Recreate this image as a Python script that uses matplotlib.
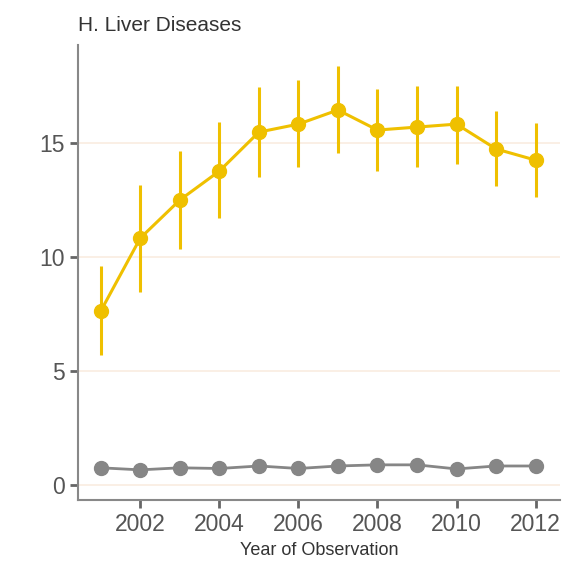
import matplotlib
matplotlib.use("Agg")
import matplotlib.pyplot as plt

years = [2001, 2002, 2003, 2004, 2005, 2006, 2007, 2008, 2009, 2010, 2011, 2012]
liver = [7.63, 10.83, 12.5, 13.77, 15.48, 15.83, 16.45, 15.57, 15.7, 15.83, 14.74, 14.25]
liver_lo = [5.7, 8.46, 10.35, 11.71, 13.5, 13.95, 14.56, 13.77, 13.95, 14.08, 13.1, 12.63]
liver_hi = [9.6, 13.16, 14.65, 15.92, 17.46, 17.76, 18.38, 17.37, 17.5, 17.5, 16.4, 15.88]
other = [0.75, 0.66, 0.75, 0.72, 0.83, 0.72, 0.83, 0.88, 0.88, 0.7, 0.83, 0.83]
other_lo = [0.55, 0.5, 0.6, 0.58, 0.7, 0.6, 0.7, 0.75, 0.75, 0.58, 0.7, 0.7]
other_hi = [0.95, 0.82, 0.9, 0.86, 0.96, 0.84, 0.96, 1.0, 1.0, 0.82, 0.96, 0.96]
xticks = [2002, 2004, 2006, 2008, 2010, 2012]
yticks = [0, 5, 10, 15]

plt.rcParams['font.family'] = ['Liberation Sans', 'DejaVu Sans']

fig = plt.figure(figsize=(5.81, 5.63), dpi=100)
ax = fig.add_axes([0.134, 0.112, 0.830, 0.808])

yellow = '#EFC000'
grey = '#868686'

for yv in yticks:
    ax.axhline(yv, color='#f9ece0', lw=1.2, zorder=0)

def errs(v, lo, hi):
    return [[a - b for a, b in zip(v, lo)], [b - a for a, b in zip(v, hi)]]

ax.errorbar(years, other, yerr=errs(other, other_lo, other_hi), color=grey,
            marker='o', ms=10, lw=2, elinewidth=2.2, capsize=0, zorder=3)
ax.errorbar(years, liver, yerr=errs(liver, liver_lo, liver_hi), color=yellow,
            marker='o', ms=10, lw=2.2, elinewidth=2.2, capsize=0, zorder=4)

ax.set_xlim(2000.42, 2012.62)
ax.set_ylim(-0.66, 19.3)
ax.set_xticks(xticks)
ax.set_yticks(yticks)
ax.tick_params(axis='both', colors='#666666', labelcolor='#555555', labelsize=16.5,
               length=6, width=2)
for s in ['top', 'right']:
    ax.spines[s].set_visible(False)
for s in ['left', 'bottom']:
    ax.spines[s].set_color('#888888')
    ax.spines[s].set_linewidth(1.5)

ax.set_xlabel('Year of Observation', fontsize=13, color='#333333', labelpad=4)
fig.text(0.134, 0.955, 'H. Liver Diseases', fontsize=15, color='#333333',
         ha='left', va='center')
fig.text(0.5, 0.993, 'Year of Observation', fontsize=13, color='#333333',
         ha='center', va='bottom', fontweight='bold')

fig.savefig('out.png', dpi=100)
